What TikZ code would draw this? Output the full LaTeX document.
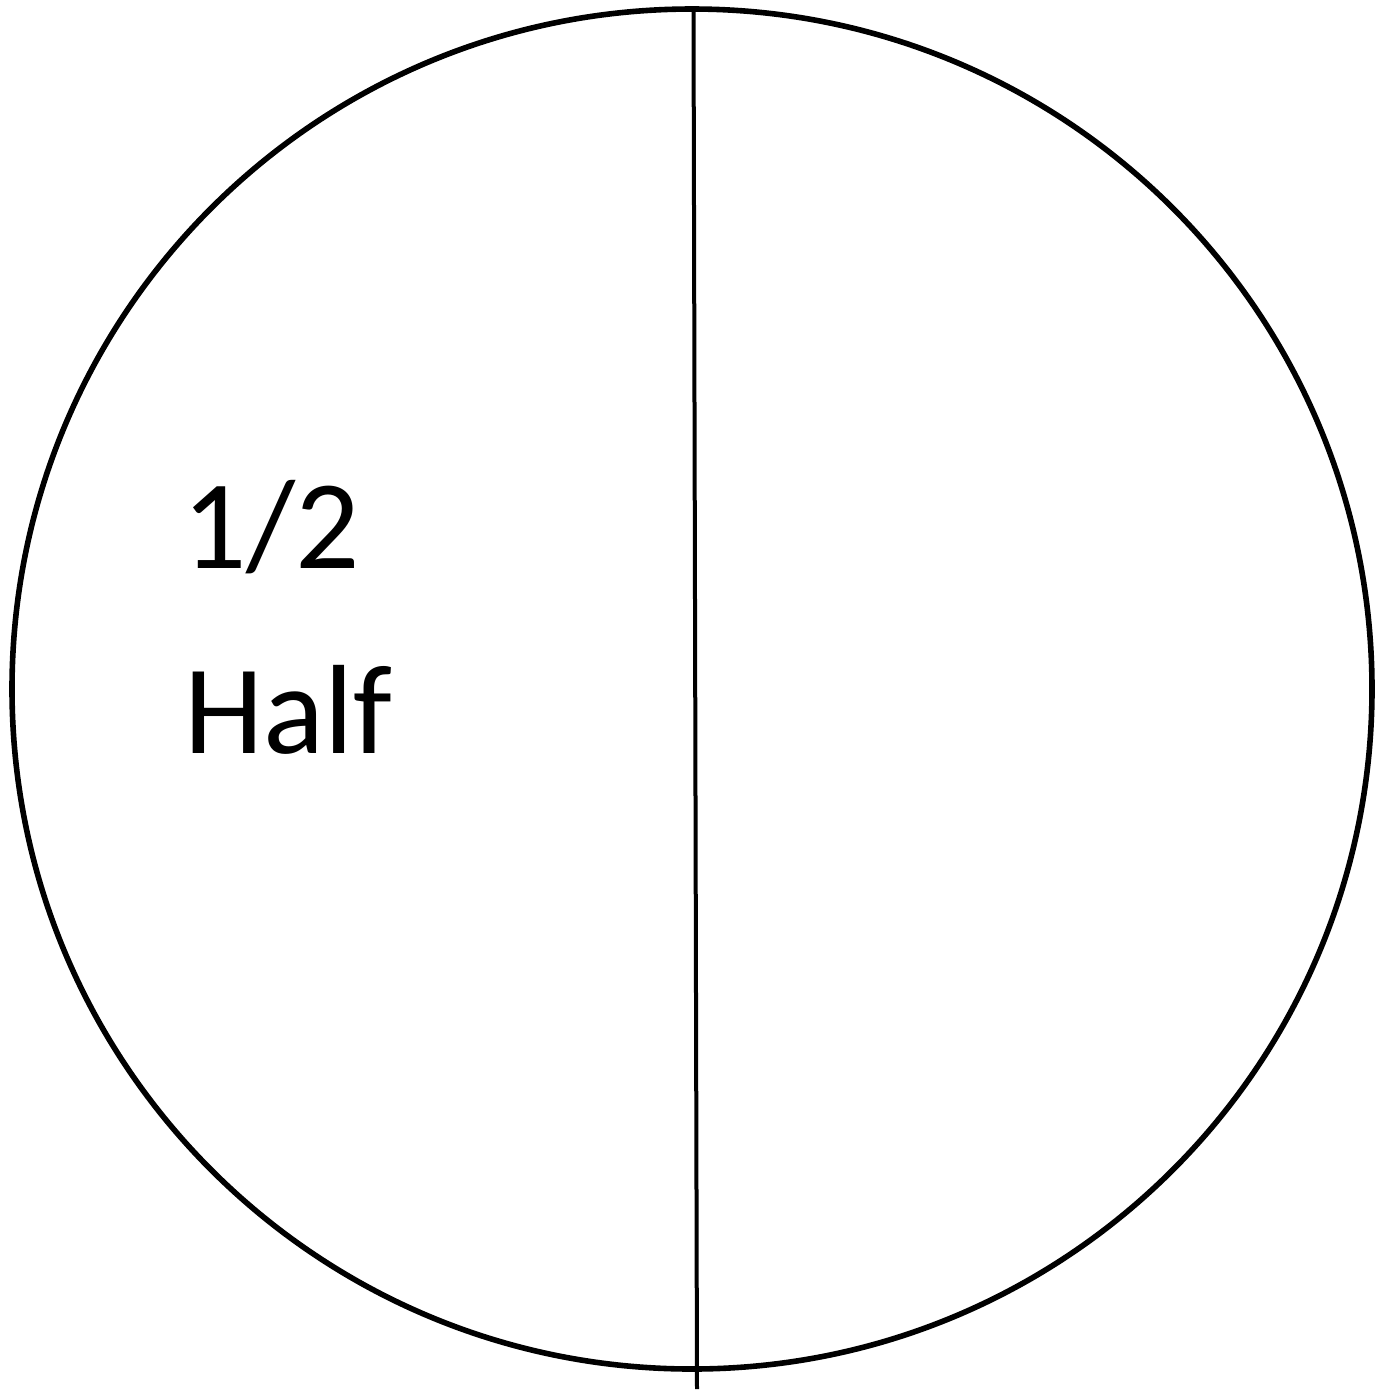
\documentclass[tikz,border=0pt]{standalone}
\usepackage{fontspec}
\setmainfont{Carlito}
\begin{document}
\begin{tikzpicture}[x=0.5pt,y=-0.5pt,
  outline/.style={draw=black,line width=2.8pt},
  divider/.style={draw=black,line width=2pt},
  label/.style={anchor=base west,inner sep=0pt,font=\fontsize{63.5}{76}\selectfont}]
\useasboundingbox (0,0) rectangle (1393,1389);
\coordinate (c) at (692,689);
\draw[outline] (c) circle[radius=340pt];
\coordinate (top) at (693.5,11);
\coordinate (bot) at (697,1389);
\draw[divider] (top) -- (bot);
\node[label] (frac) at (182,568) {1/2};
\node[label] (word) at (184,753) {Half};
\end{tikzpicture}
\end{document}
